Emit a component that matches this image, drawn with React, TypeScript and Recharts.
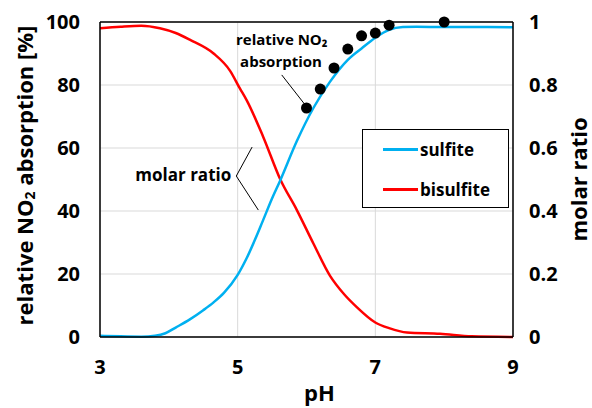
import React from "react";
import {
  ComposedChart,
  Line,
  Scatter,
  XAxis,
  YAxis,
  CartesianGrid,
  ReferenceLine,
  ReferenceDot,
} from "recharts";

// molar ratio curves
const sulfitePH = [3.0, 3.3, 3.6, 3.8, 3.95, 4.1, 4.3, 4.5, 4.65, 4.8, 5.0, 5.13, 5.37, 5.49, 5.62, 5.86, 6.1, 6.34, 6.6, 6.8, 7.0, 7.2, 7.4, 7.6, 8.0, 8.5, 9.0];
const sulfiteRatio = [0.004, 0.002, 0.001, 0.004, 0.012, 0.03, 0.055, 0.085, 0.11, 0.14, 0.197, 0.25, 0.371, 0.435, 0.498, 0.622, 0.727, 0.81, 0.88, 0.916, 0.95, 0.975, 0.984, 0.985, 0.984, 0.984, 0.983];

const bisulfitePH = [3.0, 3.3, 3.6, 3.87, 4.1, 4.31, 4.65, 4.89, 5.03, 5.13, 5.37, 5.62, 5.86, 6.1, 6.34, 6.55, 6.73, 7.0, 7.2, 7.46, 7.94, 8.4, 9.0];
const bisulfiteRatio = [0.98, 0.985, 0.988, 0.98, 0.965, 0.943, 0.9, 0.845, 0.79, 0.752, 0.636, 0.5, 0.403, 0.297, 0.195, 0.135, 0.095, 0.046, 0.028, 0.014, 0.01, 0.002, 0.0];

// measured NO2 absorption
const absorptionPH = [6.0, 6.2, 6.4, 6.6, 6.8, 7.0, 7.2, 8.0];
const absorptionPct = [72.7, 78.7, 85.4, 91.4, 95.6, 96.5, 99.0, 100];

const xTicks = [3, 5, 7, 9];
const leftTicks = [0, 20, 40, 60, 80, 100];
const rightTicks = [0, 0.2, 0.4, 0.6, 0.8, 1];

const sulfiteData = sulfitePH.map((pH, i) => ({ pH, ratio: sulfiteRatio[i] }));
const bisulfiteData = bisulfitePH.map((pH, i) => ({ pH, ratio: bisulfiteRatio[i] }));
const absorptionData = absorptionPH.map((pH, i) => ({ pH, abs: absorptionPct[i] }));

const SULFITE = "#00b0f0";
const BISULFITE = "#ff0000";
const legendItems = [
  { name: "sulfite", color: SULFITE },
  { name: "bisulfite", color: BISULFITE },
];

const FONT = "'Open Sans', Lato, sans-serif";
const tickStyle = { fontSize: 20, fontWeight: 700, fill: "#000", fontFamily: FONT };

function LeftTitle(props: any) {
  const vb = props.viewBox || { x: 0, y: 22, width: 100, height: 315 };
  const cx = vb.x + 24;
  const cy = vb.y + vb.height / 2 - 4;
  return (
    <text x={cx} y={cy} transform={`rotate(-90 ${cx} ${cy})`} textAnchor="middle" dominantBaseline="central"
      fontSize={22} fontWeight={700} fill="#000" fontFamily={FONT}>
      relative NO<tspan dy={5} fontSize={14}>2</tspan>
      <tspan dy={-5}> absorption [%]</tspan>
    </text>
  );
}

function RightTitle(props: any) {
  const vb = props.viewBox || { x: 513, y: 22, width: 79, height: 315 };
  const cx = vb.x + 65;
  const cy = vb.y + vb.height / 2;
  return (
    <text x={cx} y={cy} transform={`rotate(-90 ${cx} ${cy})`} textAnchor="middle" dominantBaseline="central"
      fontSize={22} fontWeight={700} fill="#000" fontFamily={FONT}>
      molar ratio
    </text>
  );
}

function BottomTitle(props: any) {
  const vb = props.viewBox || { x: 100, y: 337, width: 413, height: 71 };
  return (
    <text x={vb.x + vb.width / 2 + 13} y={vb.y + 64} textAnchor="middle"
      fontSize={22} fontWeight={700} fill="#000" fontFamily={FONT}>
      pH
    </text>
  );
}

function LegendBox() {
  return (
    <div style={{ position: "absolute", left: 362, top: 129, width: 147, height: 79, boxSizing: "border-box",
      border: "1.5px solid #000", background: "#fff", fontFamily: FONT }}>
      {legendItems.map((p, i) => (
        <div key={p.name} style={{ position: "absolute", left: 20, top: 7 + i * 40, height: 24, display: "flex", alignItems: "center" }}>
          <div style={{ width: 35, height: 3, background: p.color }} />
          <span style={{ marginLeft: 2, fontSize: 17, fontWeight: 700, color: "#000" }}>{p.name}</span>
        </div>
      ))}
    </div>
  );
}

const annoLabel = (value: string, size: number) => ({
  value,
  position: "center" as const,
  fill: "#000",
  fontSize: size,
  fontWeight: 700,
  fontFamily: FONT,
});

export default function App() {
  return (
    <div style={{ position: "absolute", left: 0, top: 0, width: 592, height: 408, background: "#fff" }}>
      <ComposedChart width={592} height={408} margin={{ top: 22, right: 0, left: 0, bottom: 0 }}>
        <CartesianGrid yAxisId="left" stroke="#d9d9d9" strokeWidth={1} />
        <XAxis dataKey="pH" type="number" domain={[3, 9]} ticks={xTicks} height={71}
          tick={tickStyle} tickLine={false} tickSize={0} tickMargin={23}
          axisLine={{ stroke: "#000", strokeWidth: 1.5 }} label={<BottomTitle />} />
        <YAxis yAxisId="left" dataKey="abs" type="number" domain={[0, 100]} ticks={leftTicks} width={100}
          tick={tickStyle} tickLine={false} tickSize={0} tickMargin={20}
          axisLine={{ stroke: "#000", strokeWidth: 1.5 }} label={<LeftTitle />} />
        <YAxis yAxisId="right" orientation="right" type="number" domain={[0, 1]} ticks={rightTicks} width={79}
          tick={tickStyle} tickLine={false} tickSize={0} tickMargin={16}
          axisLine={{ stroke: "#000", strokeWidth: 1.5 }} label={<RightTitle />} />
        <ReferenceLine yAxisId="left" y={100} stroke="#000" strokeWidth={1.5} />

        <Line data={bisulfiteData} dataKey="ratio" name="bisulfite" yAxisId="right" type="monotone"
          stroke={BISULFITE} strokeWidth={2.5} dot={false} isAnimationActive={false} />
        <Line data={sulfiteData} dataKey="ratio" name="sulfite" yAxisId="right" type="monotone"
          stroke={SULFITE} strokeWidth={2.5} dot={false} isAnimationActive={false} />
        <Scatter data={absorptionData} dataKey="abs" yAxisId="left" fill="#000"
          shape={(p: any) => <circle cx={p.cx} cy={p.cy} r={5.5} fill="#000" />} isAnimationActive={false} />

        {/* annotations */}
        <ReferenceLine yAxisId="left" segment={[{ x: 5.64, y: 83.2 }, { x: 5.98, y: 73.7 }]} stroke="#000" strokeWidth={1} />
        <ReferenceLine yAxisId="left" segment={[{ x: 5.21, y: 60.3 }, { x: 4.98, y: 51.1 }]} stroke="#000" strokeWidth={1} />
        <ReferenceLine yAxisId="left" segment={[{ x: 4.98, y: 51.1 }, { x: 5.3, y: 40.3 }]} stroke="#000" strokeWidth={1} />
        <ReferenceDot yAxisId="left" x={5.64} y={94.3} r={0} fill="none" stroke="none" label={annoLabel("relative NO₂", 15)} />
        <ReferenceDot yAxisId="left" x={5.63} y={87.3} r={0} fill="none" stroke="none" label={annoLabel("absorption", 15)} />
        <ReferenceDot yAxisId="left" x={4.21} y={51.4} r={0} fill="none" stroke="none" label={annoLabel("molar ratio", 17)} />
      </ComposedChart>
      <LegendBox />
    </div>
  );
}
